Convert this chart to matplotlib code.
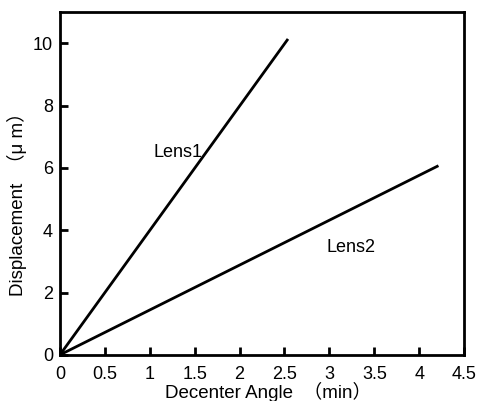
import matplotlib
matplotlib.use("Agg")
import matplotlib.pyplot as plt

plt.rcParams['font.family'] = ['Liberation Sans', 'Noto Sans CJK JP', 'DejaVu Sans']

lens1_x = [0, 2.53]
lens1_y = [0, 10.1]
lens2_x = [0, 4.2]
lens2_y = [0, 6.05]
xticks = [0, 0.5, 1, 1.5, 2, 2.5, 3, 3.5, 4, 4.5]
xticklabels = ['0', '0.5', '1', '1.5', '2', '2.5', '3', '3.5', '4', '4.5']
yticks = [0, 2, 4, 6, 8, 10]

fig = plt.figure(figsize=(4.83, 4.01), dpi=100)
ax = fig.add_axes([0.124, 0.115, 0.837, 0.855])
ax.plot(lens1_x, lens1_y, color='black', lw=2)
ax.plot(lens2_x, lens2_y, color='black', lw=2)
ax.text(1.31, 6.5, 'Lens1', fontsize=13, ha='center', va='center')
ax.text(3.24, 3.45, 'Lens2', fontsize=13, ha='center', va='center')
ax.set_xlim(0, 4.5)
ax.set_ylim(0, 11)
ax.set_xticks(xticks)
ax.set_xticklabels(xticklabels)
ax.set_yticks(yticks)
ax.tick_params(direction='in', length=6, width=2, labelsize=13)
ax.tick_params(axis='x', pad=8)
ax.tick_params(axis='y', pad=5)
for s in ax.spines.values():
    s.set_linewidth(2)
ax.set_xlabel('Decenter Angle  （min）', fontsize=13.5)
ax.set_ylabel('Displacement  （μ m）', fontsize=13.5)
ax.xaxis.set_label_coords(0.515, -0.108)
ax.yaxis.set_label_coords(-0.105, 0.452)
ax.xaxis.label.set_va('center')
ax.yaxis.label.set_va('center')
fig.savefig('out.png', dpi=100)
